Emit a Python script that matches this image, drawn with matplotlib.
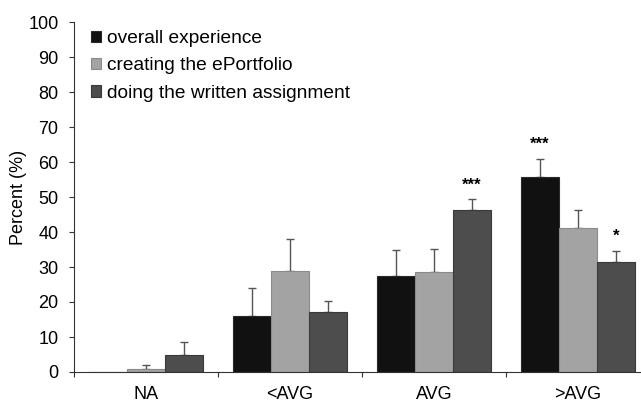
import matplotlib
matplotlib.use('Agg')
import matplotlib.pyplot as plt
import numpy as np

plt.rcParams['font.family'] = ['Liberation Sans', 'DejaVu Sans']

categories = ['NA', '<AVG', 'AVG', '>AVG']
series = ['overall experience', 'creating the ePortfolio', 'doing the written assignment']
values = [
    [0.0, 16.0, 27.5, 55.8],
    [0.9, 28.9, 28.6, 41.1],
    [4.9, 17.2, 46.3, 31.4],
]
err_top = [
    [0.0, 24.0, 34.9, 61.0],
    [2.1, 38.0, 35.1, 46.2],
    [8.6, 20.3, 49.3, 34.6],
]
stars = [(2, 2, '***'), (3, 0, '***'), (3, 2, '*')]
colors = ['#111111', '#a3a3a3', '#4d4d4d']
edges = ['#2a2a2a', '#8a8a8a', '#3a3a3a']

fig = plt.figure(figsize=(6.41, 4.03), dpi=100)
ax = fig.add_axes([74/641, 31/403, 576/641, 350/403])

x = np.arange(len(categories))
w = 0.264
for i, name in enumerate(series):
    pos = x + (i - 1) * w
    vals = np.array(values[i])
    up = np.array(err_top[i]) - vals
    ax.bar(pos, vals, w, color=colors[i], edgecolor=edges[i], linewidth=0.8, label=name, zorder=2)
    has_err = up > 0
    ax.errorbar(pos[has_err], vals[has_err], yerr=[np.zeros(has_err.sum()), up[has_err]],
                fmt='none', ecolor='#555555', elinewidth=1.0, capsize=3, capthick=1.0, zorder=1)

for c, s, txt in stars:
    ax.text(x[c] + (s - 1) * w, err_top[s][c] + 2.0, txt, ha='center', va='bottom',
            fontsize=12, fontweight='bold')

ax.set_xlim(-0.5, 3.5)
ax.set_ylim(0, 100)
ax.set_yticks(range(0, 101, 10))
ax.set_xticks(x)
ax.set_xticklabels(categories)
ax.set_xticks([-0.5, 0.5, 1.5, 2.5, 3.5], minor=True)
ax.tick_params(axis='x', which='major', length=0, labelsize=13, pad=10)
ax.tick_params(axis='x', which='minor', length=3.6, width=0.8, color='#333333')
ax.tick_params(axis='y', length=3.6, width=0.8, labelsize=13, pad=7.5, color='#333333')
ax.set_ylabel('Percent (%)', fontsize=13, labelpad=1)
for sp in ['top', 'right']:
    ax.spines[sp].set_visible(False)
for sp in ['left', 'bottom']:
    ax.spines[sp].set_color('#333333')
    ax.spines[sp].set_linewidth(0.8)

ax.legend(loc='upper left', bbox_to_anchor=(0.03, 0.977), frameon=False, fontsize=13.8,
          borderpad=0, borderaxespad=0,
          handlelength=0.53, handleheight=0.53, handletextpad=0.3, labelspacing=0.54)

fig.savefig('out.png', dpi=100)
